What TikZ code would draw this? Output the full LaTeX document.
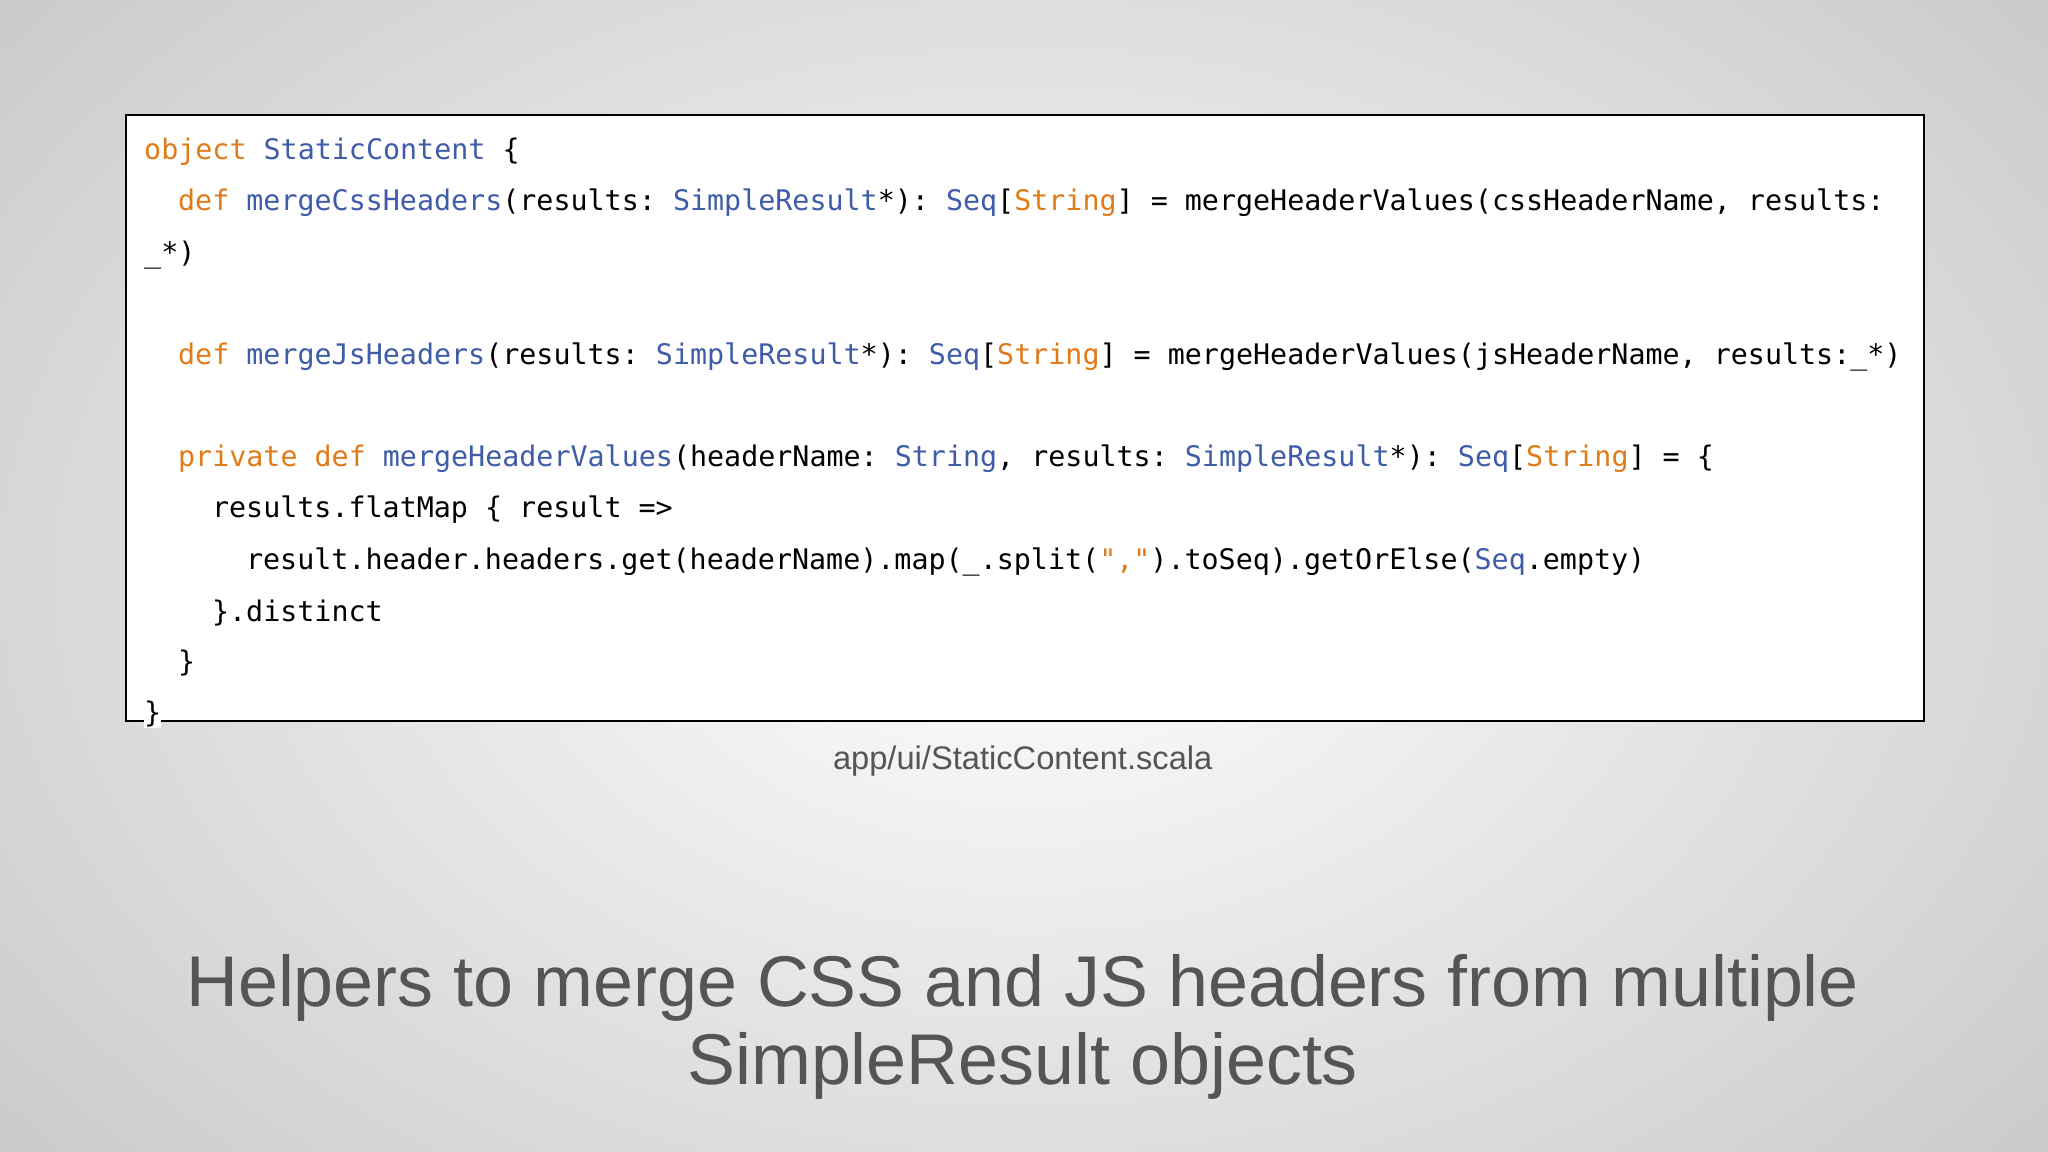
\documentclass[tikz,border=0pt]{standalone}
\usepackage{fontspec}
\setmainfont{Liberation Sans}
\setmonofont{DejaVu Sans Mono}
\definecolor{kw}{HTML}{E07B1A}
\definecolor{ty}{HTML}{3E5CA8}
\definecolor{tx}{HTML}{555555}
\newcommand{\kw}[1]{\textcolor{kw}{#1}}
\newcommand{\ty}[1]{\textcolor{ty}{#1}}
\tikzset{code/.style={anchor=west,inner sep=0pt,font=\fontsize{10.85}{12}\ttfamily},
  captext/.style={text=tx,inner sep=0pt}}
\begin{document}
\begin{tikzpicture}[x=0.5pt,y=-0.5pt]
\useasboundingbox (0,0) rectangle (1568,882);
\shade[inner color=white,outer color=black!22] (-300,-300) rectangle (1868,1182);
\clip (0,0) rectangle (1568,882);
\node[draw=black,line width=0.8pt,fill=white,minimum width=688pt,minimum height=232pt,inner sep=0pt,anchor=north west] (box) at (96,87) {};
\node[code] (l1) at (110,116) {\kw{object} \ty{StaticContent} \{};
\node[code] (l2) at (136,155) {\kw{def} \ty{mergeCssHeaders}(results: \ty{SimpleResult}*): \ty{Seq}[\kw{String}] = mergeHeaderValues(cssHeaderName, results:};
\node[code] (l3) at (110,195) {\_*)};
\node[code] (l4) at (136,273) {\kw{def} \ty{mergeJsHeaders}(results: \ty{SimpleResult}*): \ty{Seq}[\kw{String}] = mergeHeaderValues(jsHeaderName, results:\_*)};
\node[code] (l5) at (136,351) {\kw{private} \kw{def} \ty{mergeHeaderValues}(headerName: \ty{String}, results: \ty{SimpleResult}*): \ty{Seq}[\kw{String}] = \{};
\node[code] (l6) at (162,390) {results.flatMap \{ result =>};
\node[code] (l7) at (188,430) {result.header.headers.get(headerName).map(\_.split(\kw{","}).toSeq).getOrElse(\ty{Seq}.empty)};
\node[code] (l8) at (162,469) {\}.distinct};
\node[code] (l9) at (136,508) {\}};
\node[code,fill=white] (l10) at (110,547) {\}};
\node[captext,font=\fontsize{12.5}{14}\selectfont] (file) at (783,583) {app/ui/StaticContent.scala};
\node[captext,font=\fontsize{27.5}{31}\selectfont,align=center] (title) at (783,786) {Helpers to merge CSS and JS headers from multiple\\[-1pt]SimpleResult objects};
\end{tikzpicture}
\end{document}
